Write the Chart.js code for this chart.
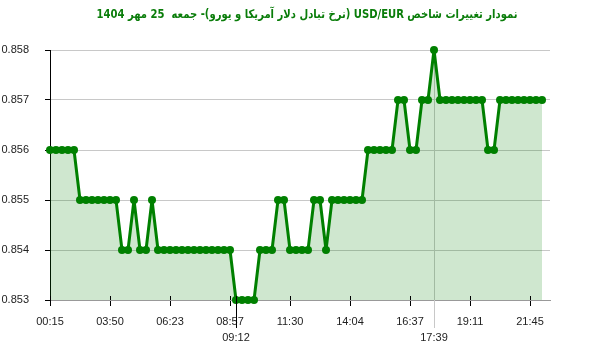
<!DOCTYPE html>
<html><head><meta charset="utf-8">
<script src="https://cdn.jsdelivr.net/npm/chart.js@4"></script>
<style>html,body{margin:0;padding:0;background:#fff}</style>
</head><body>
<canvas id="c" width="600" height="352"></canvas>
<script>
const titleText = 'نمودار تغییرات شاخص USD/EUR (نرخ تبادل دلار آمریکا و یورو)- جمعه  25 مهر 1404';
const values = [
  0.856,0.856,0.856,0.856,0.856,
  0.855,0.855,0.855,0.855,0.855,0.855,0.855,
  0.854,0.854,0.855,0.854,0.854,0.855,
  0.854,0.854,0.854,0.854,0.854,0.854,0.854,0.854,0.854,0.854,0.854,0.854,0.854,
  0.853,0.853,0.853,0.853,
  0.854,0.854,0.854,
  0.855,0.855,
  0.854,0.854,0.854,0.854,
  0.855,0.855,0.854,
  0.855,0.855,0.855,0.855,0.855,0.855,
  0.856,0.856,0.856,0.856,0.856,
  0.857,0.857,0.856,0.856,0.857,0.857,0.858,
  0.857,0.857,0.857,0.857,0.857,0.857,0.857,0.857,
  0.856,0.856,
  0.857,0.857,0.857,0.857,0.857,0.857,0.857,0.857
];
const tickLabels = ['00:15','03:50','06:23','08:57','11:30','14:04','16:37','19:11','21:45'];
const tickEvery = 10;
const yTicks = [0.853,0.854,0.855,0.856,0.857,0.858];
const markerIndex = [31, 64];
const markerLabels = ['09:12','17:39'];

const FONT = "'Liberation Sans', Arial, sans-serif";

const markers = {
  id: 'markers',
  beforeDatasetsDraw(chart) {
    const {ctx, chartArea} = chart;
    const xs = chart.scales.x;
    ctx.save();
    ctx.lineWidth = 1;
    let x = Math.round(xs.getPixelForValue(markerIndex[1])) + 0.5;
    ctx.strokeStyle = '#c8c8c8';
    ctx.beginPath(); ctx.moveTo(x, chartArea.top); ctx.lineTo(x, chartArea.bottom + 28); ctx.stroke();
    ctx.restore();
  },
  afterDraw(chart) {
    const {ctx, chartArea} = chart;
    const xs = chart.scales.x;
    ctx.save();
    let x = Math.round(xs.getPixelForValue(markerIndex[0])) + 0.5;
    ctx.strokeStyle = '#000'; ctx.lineWidth = 1;
    ctx.beginPath(); ctx.moveTo(x, chartArea.bottom - 4); ctx.lineTo(x, chartArea.bottom + 28); ctx.stroke();
    ctx.fillStyle = '#222';
    ctx.font = '11px ' + FONT;
    ctx.textAlign = 'center'; ctx.textBaseline = 'middle';
    markerIndex.forEach((idx, i) => {
      ctx.fillText(markerLabels[i], xs.getPixelForValue(idx), chartArea.bottom + 38);
    });
    xs.ticks.forEach(t => {
      const px = Math.round(xs.getPixelForValue(t.value)) + 0.5;
      ctx.beginPath(); ctx.moveTo(px, chartArea.bottom - 4); ctx.lineTo(px, chartArea.bottom); ctx.stroke();
    });
    // title
    ctx.direction = 'rtl';
    ctx.font = "bold 12px Tahoma, 'DejaVu Sans', sans-serif";
    ctx.fillStyle = '#0a7d0a';
    ctx.textAlign = 'center';
    const w = ctx.measureText(titleText).width;
    const sx = Math.min(1, 421 / w);
    ctx.translate(307, 15);
    ctx.scale(sx, 1);
    ctx.fillText(titleText, 0, 0);
    ctx.restore();
  }
};

new Chart(document.getElementById('c'), {
  type: 'line',
  data: {
    datasets: [{
      data: values.map((v, i) => ({x: i, y: v})),
      borderColor: '#008000',
      borderWidth: 3,
      borderJoinStyle: 'round',
      borderCapStyle: 'round',
      pointRadius: 4,
      pointBorderWidth: 0,
      pointBackgroundColor: '#008000',
      fill: 'start',
      backgroundColor: 'rgba(0,128,0,0.19)',
      tension: 0,
      clip: 8
    }]
  },
  options: {
    responsive: false,
    devicePixelRatio: 1,
    animation: false,
    layout: {padding: {top: 50, right: 50, bottom: 0, left: 0}},
    plugins: {legend: {display: false}, tooltip: {enabled: false}, title: {display: false}},
    scales: {
      x: {
        type: 'linear',
        min: 0,
        max: 83.33,
        afterBuildTicks: s => { s.ticks = tickLabels.map((_, i) => ({value: i * tickEvery})); },
        ticks: {
          callback: (v, i) => tickLabels[i],
          autoSkip: false, maxRotation: 0,
          font: {size: 11, family: FONT}, color: '#222', padding: 9
        },
        grid: {drawOnChartArea: false, color: '#000', tickLength: 6},
        border: {color: '#999'},
        afterFit: s => { s.height = 52; }
      },
      y: {
        min: 0.853,
        max: 0.858,
        afterBuildTicks: s => { s.ticks = yTicks.map(v => ({value: v})); },
        ticks: {
          callback: v => v.toFixed(3),
          font: {size: 11, family: FONT}, color: '#222', padding: 16
        },
        grid: {color: '#c8c8c8', tickColor: '#000', tickLength: 5},
        border: {color: '#000'},
        afterFit: s => { s.width = 50; }
      }
    }
  },
  plugins: [markers]
});
</script>
</body></html>
